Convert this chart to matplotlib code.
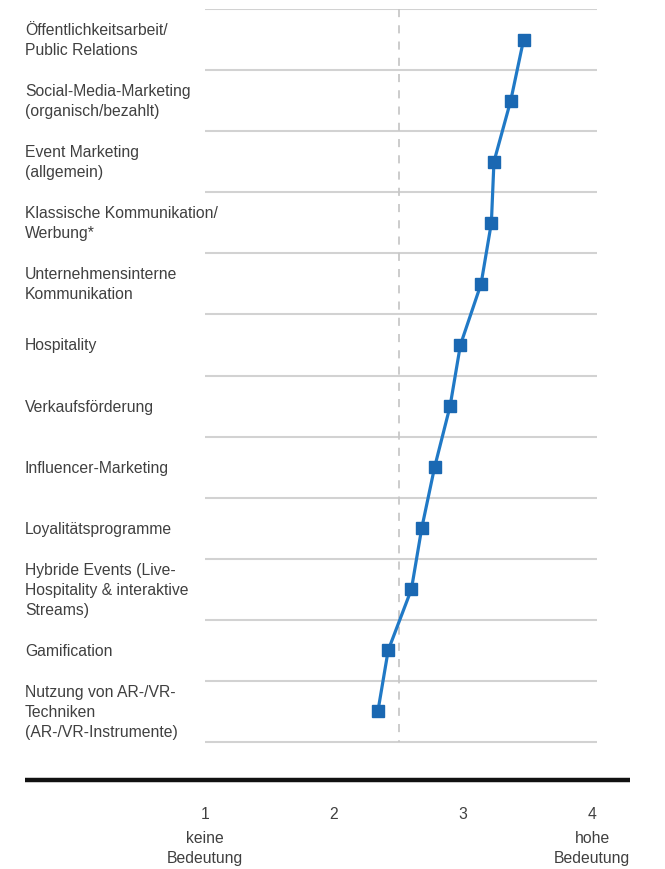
import matplotlib
matplotlib.use("Agg")
import matplotlib.pyplot as plt

plt.rcParams['font.family'] = ['Liberation Sans', 'DejaVu Sans']

categories = [
    "Öffentlichkeitsarbeit/\nPublic Relations",
    "Social-Media-Marketing\n(organisch/bezahlt)",
    "Event Marketing\n(allgemein)",
    "Klassische Kommunikation/\nWerbung*",
    "Unternehmensinterne\nKommunikation",
    "Hospitality",
    "Verkaufsförderung",
    "Influencer-Marketing",
    "Loyalitätsprogramme",
    "Hybride Events (Live-\nHospitality & interaktive\nStreams)",
    "Gamification",
    "Nutzung von AR-/VR-\nTechniken\n(AR-/VR-Instrumente)",
]
values = [3.47, 3.37, 3.24, 3.22, 3.14, 2.98, 2.90, 2.78, 2.68, 2.60, 2.42, 2.34]
tick_values = [1, 2, 3, 4]
tick_labels = ["1", "2", "3", "4"]
end_labels = {1: "keine\nBedeutung", 4: "hohe\nBedeutung"}
reference_value = 2.5

W, H = 665, 870
fig = plt.figure(figsize=(W / 100, H / 100), dpi=100)

left_px, right_px, top_px, bot_px = 25, 630, 10, 781
ax = fig.add_axes([left_px / W, 1 - bot_px / H, (right_px - left_px) / W, (bot_px - top_px) / H])

px_per_unit = 129.0
xmin = 1 - (205 - left_px) / px_per_unit
xmax = 4 + (right_px - 592) / px_per_unit
ax.set_xlim(xmin, xmax)
n = len(categories)
row_px = (743 - 10) / n
ymax_rows = (bot_px - top_px) / row_px
ax.set_ylim(ymax_rows, 0)

text_color = "#404040"
grid_color = "#d2d2d2"

grid_right = 4 + (597 - 592) / px_per_unit
for i in range(n + 1):
    ax.hlines(i, 1, grid_right, color=grid_color, lw=1.5, zorder=1)

ax.vlines(reference_value, 0, n, color="#c8c8c8", lw=1.3, linestyles=(0, (4.5, 4.5)), zorder=1)

ys = [i + 0.5 for i in range(n)]
ax.plot(values, ys, color="#2079c6", lw=2.3, zorder=3)
ax.plot(values, ys, ls="none", marker="s", ms=8.6, color="#1a68b2", zorder=4)

for y, lab in zip(ys, categories):
    ax.text(xmin, y, lab, ha="left", va="center", fontsize=11.3, color=text_color,
            linespacing=1.42)

for s in ["top", "left", "right"]:
    ax.spines[s].set_visible(False)
ax.spines["bottom"].set_linewidth(3.2)
ax.spines["bottom"].set_color("#111111")
ax.spines["bottom"].set_capstyle("butt")
ax.set_yticks([])
ax.set_xticks(tick_values)
ax.set_xticklabels(tick_labels, fontsize=11.3, color=text_color)
ax.tick_params(axis="x", length=0, pad=19)

for v, lab in end_labels.items():
    ax.annotate(lab, xy=(v, 0), xycoords=("data", "axes fraction"),
                xytext=(0, -36), textcoords="offset points", ha="center", va="top",
                fontsize=11.3, color=text_color, linespacing=1.42)

fig.savefig("out.png", dpi=100)
